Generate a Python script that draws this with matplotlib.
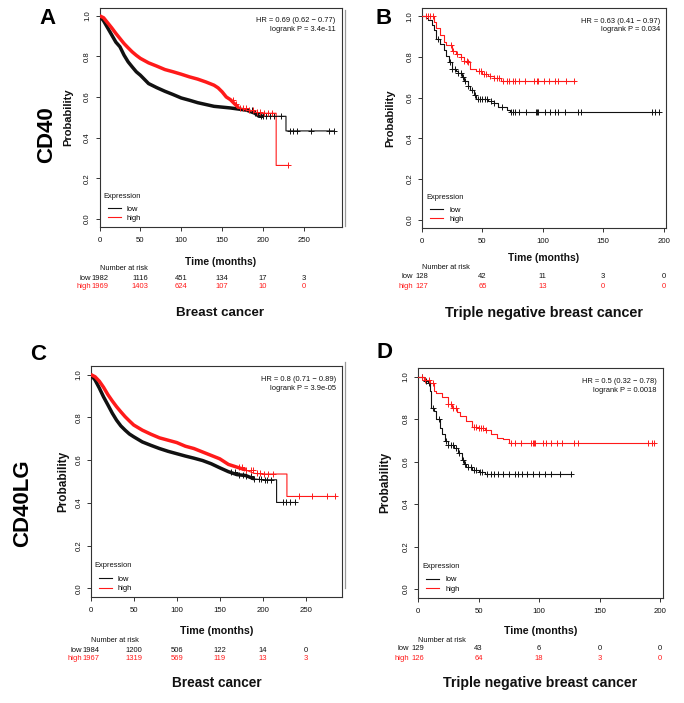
import numpy as np
import matplotlib
matplotlib.use('Agg')
import matplotlib.pyplot as plt
from matplotlib.lines import Line2D
from matplotlib.transforms import blended_transform_factory as btf

plt.rcParams['font.family'] = ['Liberation Sans', 'DejaVu Sans']

# ---------------- data ----------------
# Panel A: CD40, breast cancer
A_low_t = [0, 5, 10, 15, 20, 25, 30, 35, 40, 45, 50, 60, 70, 80, 90, 100, 110, 120, 140, 160, 180, 190, 195, 200, 222, 228, 228, 287]
A_low_s = [1.0, 0.975, 0.94, 0.905, 0.87, 0.847, 0.806, 0.773, 0.748, 0.724, 0.707, 0.666, 0.646, 0.628, 0.612, 0.595, 0.584, 0.572, 0.554, 0.546, 0.535, 0.52, 0.505, 0.505, 0.505, 0.505, 0.433, 0.433]
A_low_c = [186, 190, 193, 197, 200, 204, 208, 213, 222, 233, 237, 242, 259, 280, 287]
A_high_t = [0, 5, 10, 15, 20, 25, 30, 35, 40, 45, 50, 60, 70, 80, 90, 100, 110, 120, 130, 140, 145, 150, 155, 160, 165, 170, 180, 190, 200, 210, 216, 216, 230]
A_high_s = [1.0, 0.99, 0.965, 0.94, 0.913, 0.888, 0.863, 0.842, 0.822, 0.805, 0.79, 0.768, 0.752, 0.735, 0.724, 0.712, 0.699, 0.688, 0.674, 0.658, 0.645, 0.625, 0.60, 0.587, 0.567, 0.548, 0.535, 0.526, 0.52, 0.52, 0.52, 0.263, 0.263]
A_high_c = [163, 167, 172, 176, 179, 183, 188, 192, 196, 201, 206, 211, 230]

# Panel B: CD40, triple negative
B_low_t = [0, 3, 5, 8, 10, 12, 15, 18, 20, 22, 25, 28, 30, 33, 35, 38, 40, 43, 45, 50, 55, 60, 63, 70, 73, 196]
B_low_s = [1.0, 0.99, 0.98, 0.955, 0.93, 0.89, 0.864, 0.834, 0.806, 0.773, 0.74, 0.732, 0.723, 0.699, 0.682, 0.657, 0.636, 0.611, 0.594, 0.591, 0.583, 0.575, 0.553, 0.541, 0.528, 0.528]
B_low_c = [13, 23, 25, 27, 30, 32, 34, 36, 38, 41, 44, 46, 48, 50, 52, 54, 57, 60, 66, 74, 75, 77, 80, 86, 94, 95, 96, 102, 106, 110, 113, 118, 129, 132, 190, 193, 196]
B_high_t = [0, 8, 10, 12, 15, 18, 20, 25, 28, 32, 35, 38, 40, 45, 50, 55, 60, 65, 67, 127]
B_high_s = [1.0, 1.0, 0.972, 0.94, 0.906, 0.872, 0.856, 0.831, 0.815, 0.798, 0.781, 0.773, 0.74, 0.732, 0.715, 0.707, 0.695, 0.682, 0.682, 0.682]
B_high_c = [3, 5, 7, 9, 24, 26, 29, 32, 35, 37, 38, 47, 49, 51, 53, 56, 60, 62, 64, 67, 70, 72, 75, 77, 80, 85, 93, 95, 96, 101, 105, 110, 113, 119, 126]

# Panel C: CD40LG, breast cancer
C_low_t = [0, 5, 10, 15, 20, 25, 30, 35, 40, 45, 50, 60, 70, 80, 90, 100, 110, 120, 130, 140, 150, 160, 170, 180, 190, 200, 216, 216, 238]
C_low_s = [1.0, 0.975, 0.937, 0.895, 0.858, 0.82, 0.787, 0.76, 0.74, 0.722, 0.709, 0.685, 0.669, 0.654, 0.641, 0.63, 0.619, 0.609, 0.598, 0.583, 0.564, 0.546, 0.532, 0.528, 0.512, 0.508, 0.508, 0.402, 0.402]
C_low_c = [163, 168, 172, 177, 181, 186, 190, 195, 198, 202, 205, 210, 223, 227, 232, 237]
C_high_t = [0, 5, 10, 15, 20, 25, 30, 35, 40, 45, 50, 60, 70, 80, 90, 100, 110, 120, 130, 140, 150, 160, 170, 180, 190, 200, 228, 228, 285]
C_high_s = [1.0, 0.99, 0.969, 0.94, 0.906, 0.877, 0.85, 0.826, 0.803, 0.783, 0.764, 0.74, 0.721, 0.704, 0.693, 0.682, 0.665, 0.654, 0.638, 0.622, 0.606, 0.58, 0.567, 0.554, 0.538, 0.535, 0.535, 0.43, 0.43]
C_high_c = [172, 176, 181, 186, 189, 193, 197, 201, 206, 212, 242, 257, 274, 284]

# Panel D: CD40LG, triple negative
D_low_t = [0, 5, 8, 10, 11, 13, 15, 18, 20, 22, 25, 30, 33, 36, 38, 40, 45, 50, 55, 126]
D_low_s = [1.0, 0.981, 0.968, 0.934, 0.854, 0.839, 0.799, 0.76, 0.728, 0.696, 0.68, 0.665, 0.641, 0.609, 0.589, 0.573, 0.562, 0.551, 0.541, 0.541]
D_low_c = [3, 7, 9, 12, 17, 23, 25, 27, 29, 31, 34, 37, 39, 41, 44, 46, 48, 51, 53, 57, 60, 63, 66, 70, 75, 80, 83, 86, 90, 95, 100, 105, 110, 117, 126]
D_high_t = [0, 5, 10, 13, 15, 20, 25, 28, 32, 35, 40, 45, 50, 55, 60, 65, 70, 75, 196]
D_high_s = [1.0, 0.984, 0.968, 0.934, 0.921, 0.902, 0.87, 0.854, 0.831, 0.815, 0.791, 0.763, 0.756, 0.747, 0.731, 0.712, 0.704, 0.688, 0.688]
D_high_c = [3, 6, 9, 12, 25, 27, 29, 31, 46, 48, 50, 52, 54, 56, 77, 80, 85, 93, 95, 96, 97, 103, 106, 110, 115, 119, 129, 132, 190, 193, 195]

# number at risk
A_risk_t = [0, 50, 100, 150, 200, 250]
A_risk_low = [1982, 1116, 451, 134, 17, 3]
A_risk_high = [1969, 1403, 624, 107, 10, 0]
B_risk_t = [0, 50, 100, 150, 200]
B_risk_low = [128, 42, 11, 3, 0]
B_risk_high = [127, 65, 13, 0, 0]
C_risk_t = [0, 50, 100, 150, 200, 250]
C_risk_low = [1984, 1200, 506, 122, 14, 0]
C_risk_high = [1967, 1319, 569, 119, 13, 3]
D_risk_t = [0, 50, 100, 150, 200]
D_risk_low = [129, 43, 6, 0, 0]
D_risk_high = [126, 64, 18, 3, 0]

HR_text = {
    'A': ["HR = 0.69 (0.62 \u2212 0.77)", "logrank P = 3.4e-11"],
    'B': ["HR = 0.63 (0.41 \u2212 0.97)", "logrank P = 0.034"],
    'C': ["HR = 0.8 (0.71 \u2212 0.89)", "logrank P = 3.9e-05"],
    'D': ["HR = 0.5 (0.32 \u2212 0.78)", "logrank P = 0.0018"],
}
titles = {'A': 'Breast cancer', 'B': 'Triple negative breast cancer',
          'C': 'Breast cancer', 'D': 'Triple negative breast cancer'}
genes = ['CD40', 'CD40LG']
legend_title = 'Expression'
legend_labels = ['low', 'high']

RED = '#FF1A1A'
BLK = '#111111'

# ---------------- layout (pixels) ----------------
W, H = 684, 703
fig = plt.figure(figsize=(W / 100, H / 100), dpi=100)


def fx(px):
    return px / W


def fy(py):
    return 1 - py / H


# left, top, right, bottom in pixels
layout = {
    'A': dict(rect=(99.5, 7.6, 341.6, 227), xmax=296, xticks=[0, 50, 100, 150, 200, 250],
              lab=(48, 18), ylab_x=68, time_y=262, nar_y=268, low_y=278, high_y=287, title_y=313,
              fs_lab=8, fs_time=7.4, title_fs=9.6),
    'B': dict(rect=(422, 8, 666, 228), xmax=202, xticks=[0, 50, 100, 150, 200],
              lab=(384, 18), ylab_x=390, time_y=258, nar_y=267, low_y=276, high_y=286, title_y=313,
              fs_lab=8, fs_time=7.4, title_fs=10.4),
    'C': dict(rect=(90.7, 366, 342, 597), xmax=292, xticks=[0, 50, 100, 150, 200, 250],
              lab=(38, 354), ylab_x=63, time_y=631, nar_y=641, low_y=650, high_y=658, title_y=683,
              fs_lab=8.5, fs_time=7.7, title_fs=9.8),
    'D': dict(rect=(418, 368, 662.5, 597.5), xmax=202, xticks=[0, 50, 100, 150, 200],
              lab=(385, 353), ylab_x=385, time_y=631, nar_y=640, low_y=649, high_y=659, title_y=683,
              fs_lab=8.5, fs_time=7.7, title_fs=10.2),
}

curves = {
    'A': [(A_low_t, A_low_s, A_low_c, BLK, 200), (A_high_t, A_high_s, A_high_c, RED, 175)],
    'B': [(B_low_t, B_low_s, B_low_c, BLK, None), (B_high_t, B_high_s, B_high_c, RED, None)],
    'C': [(C_low_t, C_low_s, C_low_c, BLK, 195), (C_high_t, C_high_s, C_high_c, RED, 180)],
    'D': [(D_low_t, D_low_s, D_low_c, BLK, None), (D_high_t, D_high_s, D_high_c, RED, None)],
}
risk = {
    'A': (A_risk_t, A_risk_low, A_risk_high),
    'B': (B_risk_t, B_risk_low, B_risk_high),
    'C': (C_risk_t, C_risk_low, C_risk_high),
    'D': (D_risk_t, D_risk_low, D_risk_high),
}


def step_value(t, s, c):
    t = np.asarray(t, float)
    s = np.asarray(s, float)
    idx = np.searchsorted(t, c, side='right') - 1
    return s[np.clip(idx, 0, len(s) - 1)]


for key in ['A', 'B', 'C', 'D']:
    L = layout[key]
    l, t, r, b = L['rect']
    ax = fig.add_axes([fx(l), fy(b), fx(r) - fx(l), (b - t) / H])
    ax.set_xlim(0, L['xmax'])
    ax.set_ylim(-0.04, 1.04)
    for sp in ax.spines.values():
        sp.set_linewidth(0.8)
        sp.set_color('#333333')
    ax.set_xticks(L['xticks'])
    ax.set_yticks([0, 0.2, 0.4, 0.6, 0.8, 1.0])
    ax.set_yticklabels(['0.0', '0.2', '0.4', '0.6', '0.8', '1.0'], rotation=90, va='center')
    ax.tick_params(axis='both', direction='out', length=3, width=0.7, color='#333333',
                   labelsize=5.6, labelcolor='#111111')
    ax.tick_params(axis='x', pad=4.5)
    ax.tick_params(axis='y', pad=3)

    for (ct, cs, cc, col, cutoff) in curves[key]:
        ct_a = np.asarray(ct, float)
        cs_a = np.asarray(cs, float)
        if cutoff is None:
            ax.plot(ct_a, cs_a, drawstyle='steps-post', color=col, lw=0.8, zorder=3)
        else:
            ax.plot(ct_a, cs_a, color=col, lw=0.8, zorder=3)
            m = ct_a <= cutoff
            ax.plot(ct_a[m], cs_a[m], color=col, lw=2.5, solid_capstyle='butt', zorder=3)
        cy = step_value(ct, cs, cc)
        ax.plot(cc, cy, ls='none', marker='+', ms=4, mew=0.7, color=col, zorder=4)

    # HR text
    hr1, hr2 = HR_text[key]
    ax.text(0.975, 0.955, hr1 + "\n" + hr2, transform=ax.transAxes, ha='right', va='top',
            fontsize=5.4, linespacing=1.25, color='#111111')

    # legend (title as separate text for spacing like the original)
    handles = [Line2D([], [], color=BLK, lw=0.8), Line2D([], [], color=RED, lw=0.8)]
    ax.legend(handles, legend_labels, loc='lower left',
              bbox_to_anchor=(0.01, -0.005), frameon=False, fontsize=5.4,
              handlelength=1.7, handletextpad=0.8, labelspacing=0.28, borderpad=0.3)
    ax.text(0.016, 0.121, legend_title, transform=ax.transAxes, ha='left', va='bottom',
            fontsize=5.4, color='#111111')

    # axis labels
    xc = (l + r) / 2
    fig.text(fx(xc), fy(L['time_y']), 'Time (months)', ha='center', va='center',
             fontsize=L['fs_time'], fontweight='bold', color='#111111')
    fig.text(fx(L['ylab_x']), fy((t + b) / 2), 'Probability', ha='center', va='center',
             rotation=90, fontsize=L['fs_lab'], fontweight='bold', color='#111111')

    # panel letter
    fig.text(fx(L['lab'][0]), fy(L['lab'][1]), key, ha='center', va='center',
             fontsize=16, fontweight='bold', color='#000000')

    # number at risk
    tr = btf(ax.transData, fig.transFigure)
    rt, rl, rh = risk[key]
    ax.text(0, fy(L['nar_y']), 'Number at risk', transform=tr, ha='left', va='center',
            fontsize=5.3, color='#111111', clip_on=False)
    off = 10 / 100 * 72  # points
    for row_vals, row_y, col, name in [(rl, L['low_y'], '#111111', 'low'),
                                       (rh, L['high_y'], RED, 'high')]:
        for tt, v in zip(rt, row_vals):
            ax.text(tt, fy(row_y), str(v), transform=tr, ha='center', va='center',
                    fontsize=5.5, color=col, clip_on=False)
        ax.annotate(name, xy=(0, fy(row_y)), xycoords=tr, xytext=(-off + 1, 0),
                    textcoords='offset points', ha='right', va='center', fontsize=5.5,
                    color=col, annotation_clip=False)

    # subtitle
    fig.text(fx(xc), fy(L['title_y']), titles[key], ha='center', va='center',
             fontsize=L['title_fs'], fontweight='bold', color='#111111')

# gene labels
fig.text(fx(47), fy(135), genes[0], rotation=90, ha='center', va='center',
         fontsize=16, fontweight='bold', color='#000000')
fig.text(fx(23), fy(503), genes[1], rotation=90, ha='center', va='center',
         fontsize=16, fontweight='bold', color='#000000')

# faint panel separators from the original composite
fig.add_artist(Line2D([fx(344.5), fx(344.5)], [fy(10), fy(226)], color='#9a9a9a', lw=0.9))
fig.add_artist(Line2D([fx(344.5), fx(344.5)], [fy(362), fy(588)], color='#9a9a9a', lw=0.9))

fig.savefig('out.png', dpi=100)
